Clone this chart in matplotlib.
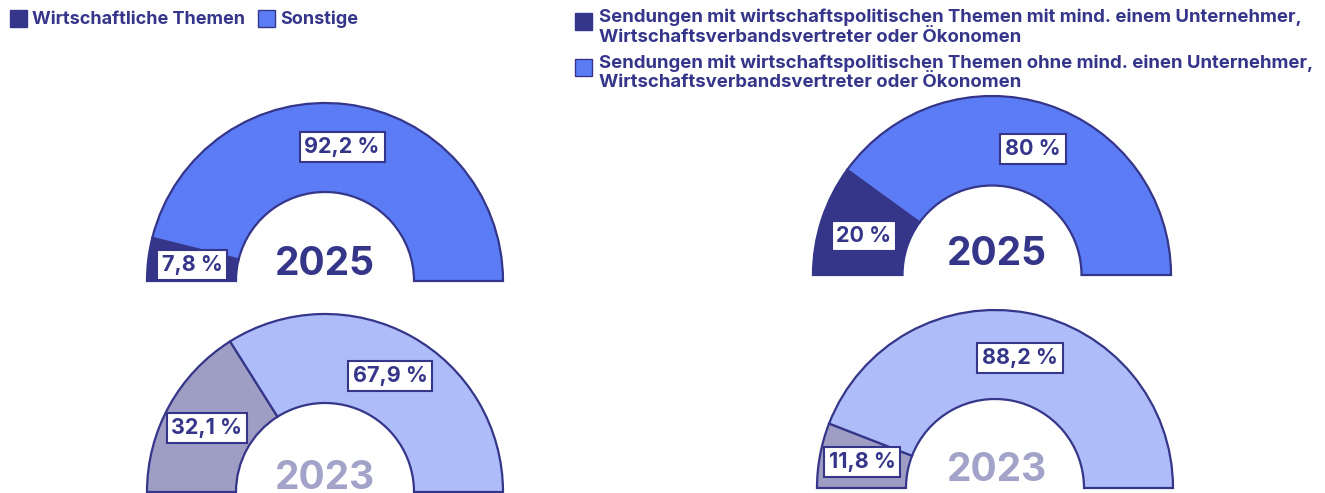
import matplotlib.pyplot as plt
from matplotlib.patches import Rectangle

plt.rcParams['font.family'] = ['Inter', 'DejaVu Sans']

W, H = 1325, 493
navy = '#35368a'
blue = '#5b7cf4'
light_blue = '#aebcf9'
grey = '#9e9dc3'
grey_text = '#a3a2c9'

# data
left_2025 = [7.8, 92.2]
left_2023 = [32.1, 67.9]
right_2025 = [20, 80]
right_2023 = [11.8, 88.2]
years = ['2025', '2023']
left_legend = ['Wirtschaftliche Themen', 'Sonstige']
right_legend = ['Sendungen mit wirtschaftspolitischen Themen mit mind. einem Unternehmer,\nWirtschaftsverbandsvertreter oder Ökonomen',
                'Sendungen mit wirtschaftspolitischen Themen ohne mind. einen Unternehmer,\nWirtschaftsverbandsvertreter oder Ökonomen']


def fmt(v):
    s = ('%.1f' % v).replace('.', ',')
    if s.endswith(',0'):
        s = s[:-2]
    return s + ' %'


fig = plt.figure(figsize=(W / 100, H / 100), dpi=100)

k = 1.03


def half_donut(cx, cy, R, vals, colors, label_pos, year, year_pos, year_color):
    ax = fig.add_axes([(cx - k * R) / W, (H - cy - k * R) / H, 2 * k * R / W, 2 * k * R / H])
    wedges, _ = ax.pie(vals + [sum(vals)], startangle=180, counterclock=False,
                       colors=colors + ['none'], radius=1,
                       wedgeprops=dict(width=0.5, edgecolor=navy, linewidth=1.6))
    wedges[-1].set_visible(False)
    ax.set_xlim(-k, k)
    ax.set_ylim(-k, k)
    ax.axis('off')
    for v, (x, y) in zip(vals, label_pos):
        ax.text(x, y, fmt(v), ha='center', va='center', fontsize=15.5, fontweight='bold',
                color=navy, zorder=5,
                bbox=dict(boxstyle='square,pad=0.22', fc='white', ec=navy, lw=1.5))
    ax.text(year_pos[0], year_pos[1], year, ha='center', va='center', fontsize=28,
            fontweight='bold', color=year_color)


half_donut(325, 281, 178, left_2025, [navy, blue],
           [(-0.747, 0.09), (0.096, 0.753)], years[0], (0, 0.09), navy)
half_donut(325, 492, 178, left_2023, [grey, light_blue],
           [(-0.663, 0.36), (0.365, 0.652)], years[1], (0, 0.075), grey_text)
half_donut(992, 275, 179, right_2025, [navy, blue],
           [(-0.715, 0.218), (0.229, 0.704)], years[0], (0.028, 0.117), navy)
half_donut(995, 488, 178, right_2023, [grey, light_blue],
           [(-0.747, 0.146), (0.14, 0.73)], years[1], (0.01, 0.1), grey_text)


# legends
def square(x, y, color):
    fig.patches.append(Rectangle((x / W, 1 - (y + 17) / H), 17 / W, 17 / H,
                                 transform=fig.transFigure, fc=color, ec=navy, lw=1))


square(10, 10, navy)
fig.text(32 / W, 1 - 19 / H, left_legend[0], fontsize=13, fontweight='bold', color=navy, va='center')
square(258, 10, blue)
fig.text(280 / W, 1 - 19 / H, left_legend[1], fontsize=13, fontweight='bold', color=navy, va='center')

square(575, 13, navy)
fig.text(599 / W, 1 - 9 / H, right_legend[0], fontsize=13.4, fontweight='bold', color=navy,
         va='top', linespacing=1.2)
square(575, 59, blue)
fig.text(599 / W, 1 - 54 / H, right_legend[1], fontsize=13.4, fontweight='bold', color=navy,
         va='top', linespacing=1.2)

fig.savefig('out.png', dpi=100)
